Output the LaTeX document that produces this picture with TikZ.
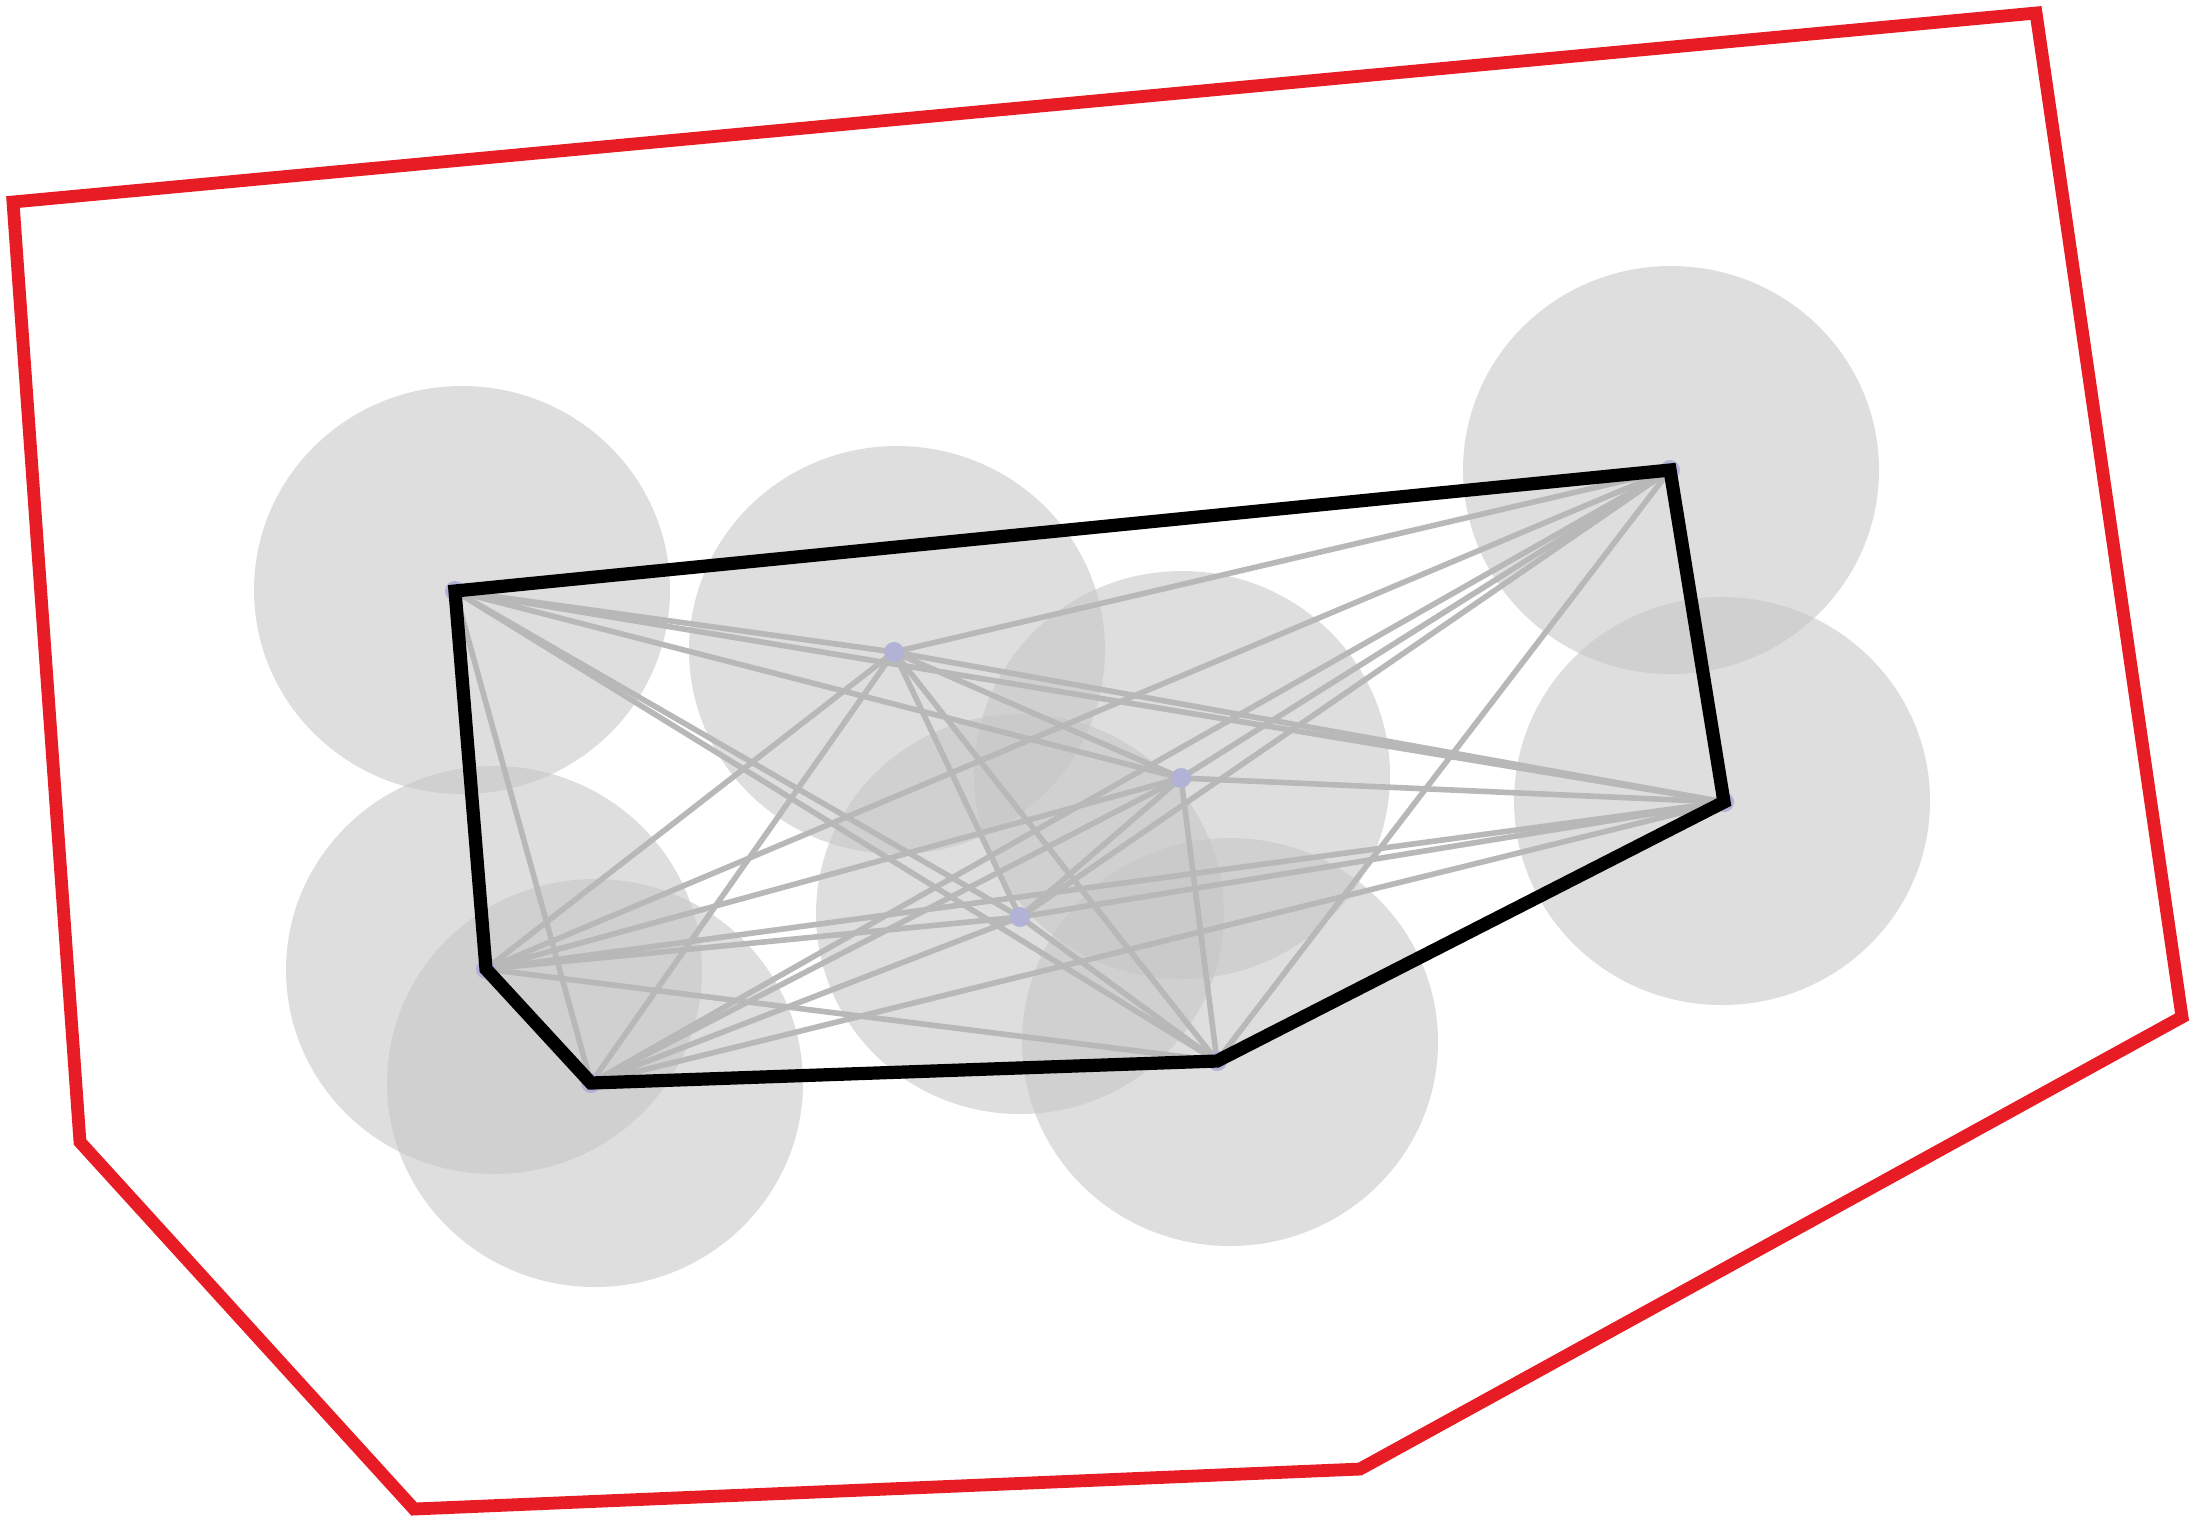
\documentclass[tikz,border=0pt]{standalone}
\usetikzlibrary{calc}
\definecolor{hullred}{RGB}{232,28,36}
\definecolor{edgegray}{RGB}{184,184,184}
\definecolor{discgray}{RGB}{198,198,198}
\definecolor{dotblue}{RGB}{178,178,214}
\tikzset{
  redhull/.style={draw=hullred, line width=3.2pt, line join=miter},
  blackhull/.style={draw=black, line width=3.3pt, line join=miter},
  edge/.style={draw=edgegray, line width=1.4pt},
  disc/.style={fill=discgray, fill opacity=0.58},
  dotmark/.style={fill=dotblue}
}
\begin{document}
\begin{tikzpicture}[x=0.25pt,y=-0.25pt]
\useasboundingbox (0,0) rectangle (2201,1524);
% points
\coordinate (A) at (455,591);
\coordinate (B) at (894,652);
\coordinate (C) at (1670,470);
\coordinate (D) at (1181,778);
\coordinate (E) at (1724,802);
\coordinate (F) at (1020,917);
\coordinate (G) at (486,969);
\coordinate (H) at (591,1083);
\coordinate (I) at (1217,1061);
% red outer polygon
\coordinate (R1) at (13,202);
\coordinate (R2) at (2036,13);
\coordinate (R3) at (2182,1017);
\coordinate (R4) at (1360,1469);
\coordinate (R5) at (414,1509);
\coordinate (R6) at (80,1142);
\draw[redhull] (R1) -- (R2) -- (R3) -- (R4) -- (R5) -- (R6) -- cycle;
% discs
\fill[disc] (462,590) ellipse [x radius=208, y radius=204];
\fill[disc] (897,650) ellipse [x radius=208, y radius=204];
\fill[disc] (1671,470) ellipse [x radius=208, y radius=204];
\fill[disc] (1182,775) ellipse [x radius=208, y radius=204];
\fill[disc] (1722,801) ellipse [x radius=208, y radius=204];
\fill[disc] (1020,914) ellipse [x radius=204, y radius=200];
\fill[disc] (494,970) ellipse [x radius=208, y radius=204];
\fill[disc] (595,1083) ellipse [x radius=208, y radius=204];
\fill[disc] (1230,1042) ellipse [x radius=208, y radius=204];
% complete graph
\foreach \p/\qs in {A/{B,C,D,E,F,G,H,I}, B/{C,D,E,F,G,H,I}, C/{D,E,F,G,H,I}, D/{E,F,G,H,I}, E/{F,G,H,I}, F/{G,H,I}, G/{H,I}, H/{I}}{
  \foreach \q in \qs { \draw[edge] (\p) -- (\q); }
}
% point markers
\foreach \p in {A,B,C,D,E,F,G,H,I} { \fill[dotmark] (\p) circle [radius=10]; }
% convex hull
\draw[blackhull] (A) -- (C) -- (E) -- (I) -- (H) -- (G) -- cycle;
\end{tikzpicture}
\end{document}
